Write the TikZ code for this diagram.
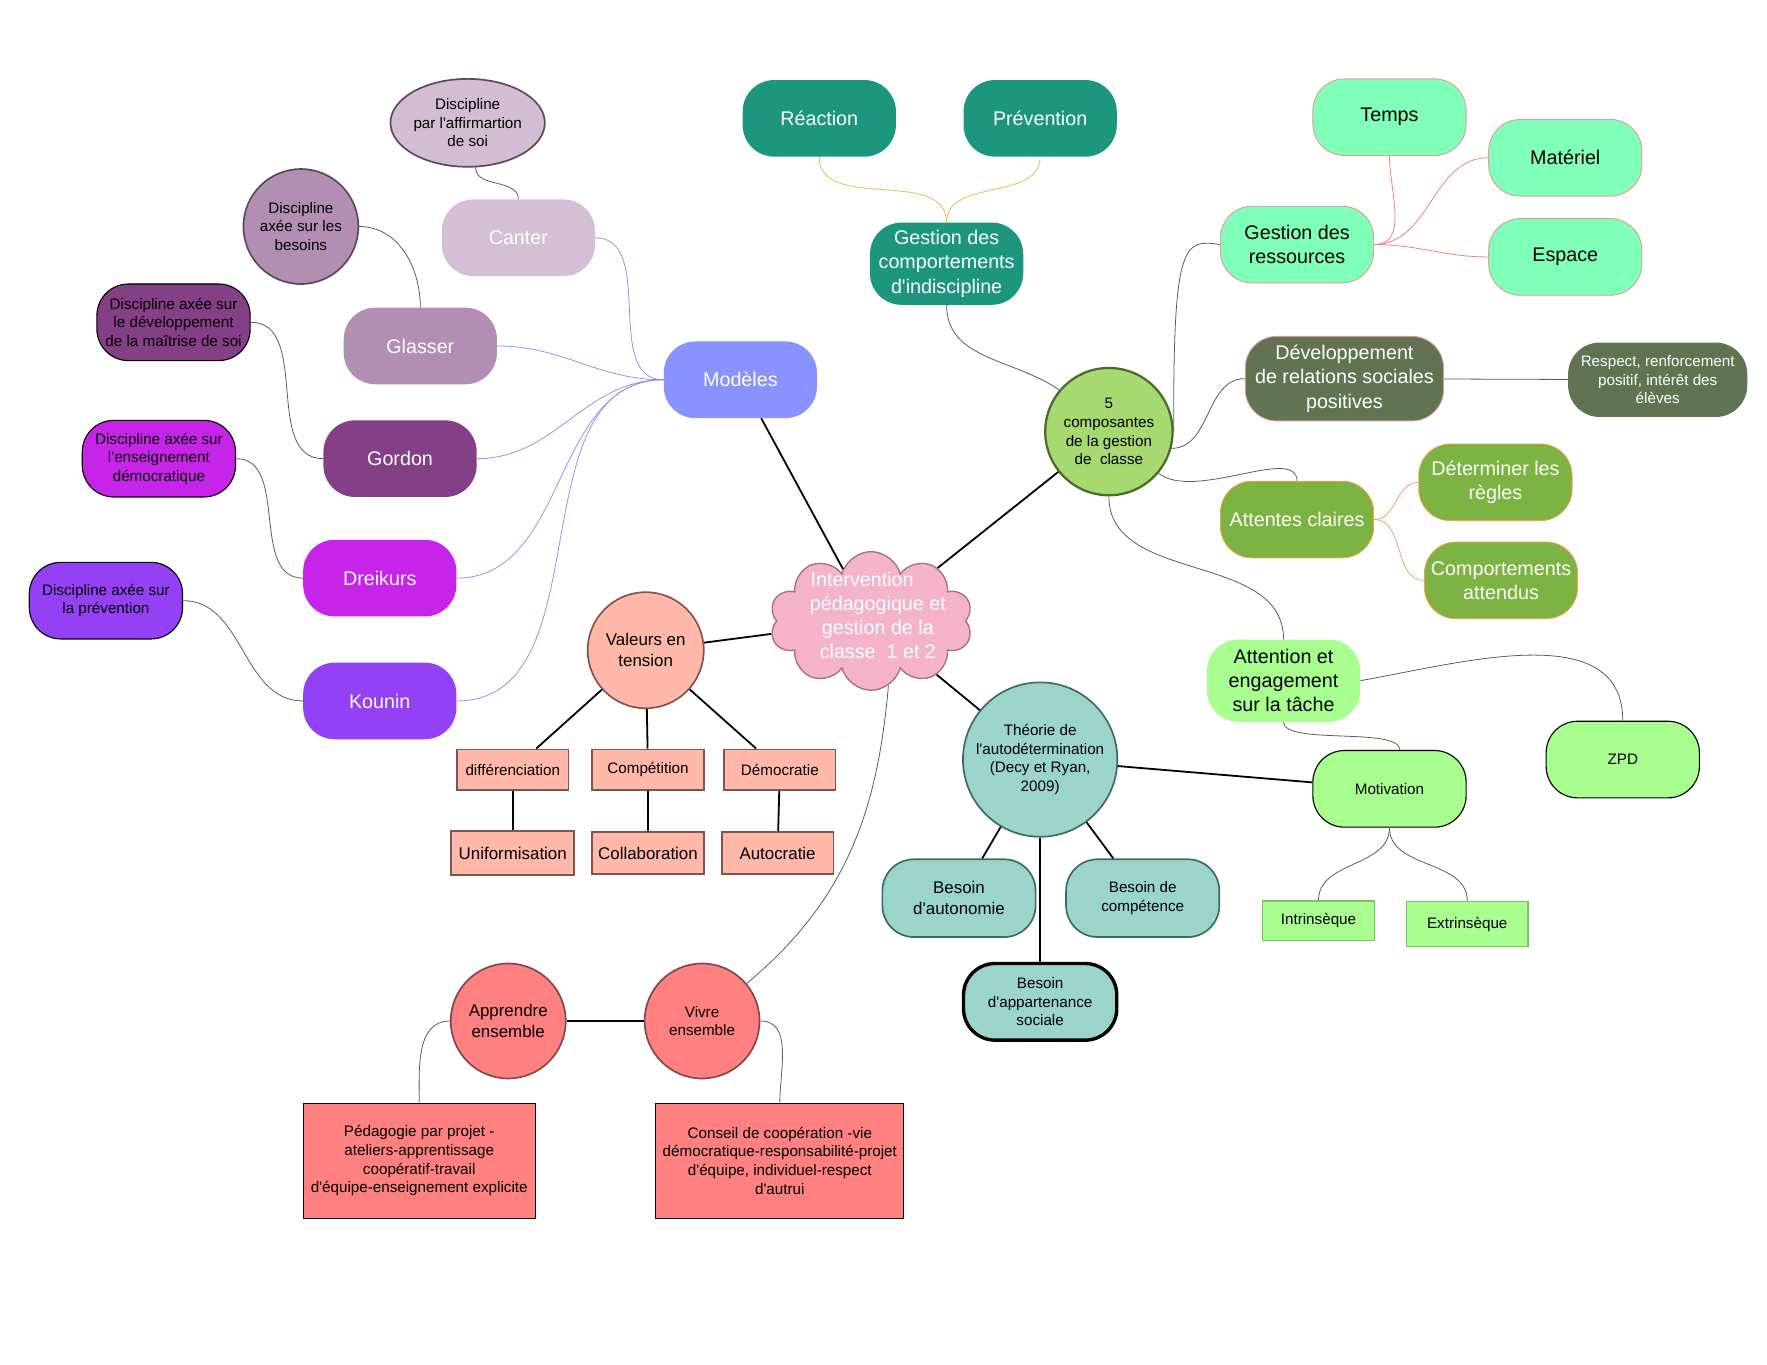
\documentclass[tikz,border=0pt]{standalone}
\usepackage{fontspec}
\setmainfont{Liberation Sans}[Ligatures=TeXOff]
\usetikzlibrary{shapes.geometric,shapes.symbols}

\definecolor{canterdisc}{HTML}{D3BDD3}
\definecolor{edgedark}{HTML}{5A4A5A}
\definecolor{canterfill}{HTML}{D4BFD4}
\definecolor{glasserfill}{HTML}{B28FB2}
\definecolor{gordonfill}{HTML}{843F86}
\definecolor{dreikursfill}{HTML}{C724E9}
\definecolor{kouninfill}{HTML}{9441F6}
\definecolor{modelfill}{HTML}{8A92FF}
\definecolor{modelline}{HTML}{8C93F5}
\definecolor{tealfill}{HTML}{1C977E}
\definecolor{goldline}{HTML}{F2B84B}
\definecolor{fivefill}{HTML}{A6D96F}
\definecolor{fiveedge}{HTML}{4C6A2C}
\definecolor{mintfill}{HTML}{80FFB9}
\definecolor{mintedge}{HTML}{E29A96}
\definecolor{olivefill}{HTML}{627354}
\definecolor{leaffill}{HTML}{7CB342}
\definecolor{orangeedge}{HTML}{EFA050}
\definecolor{orangeline}{HTML}{F5A060}
\definecolor{limefill}{HTML}{A8FF8F}
\definecolor{limeedge}{HTML}{7FC06B}
\definecolor{corefill}{HTML}{F4B3C8}
\definecolor{coreedge}{HTML}{A86E84}
\definecolor{salmonfill}{HTML}{FFB8AA}
\definecolor{salmonedge}{HTML}{7F5550}
\definecolor{aquafill}{HTML}{9BD5C9}
\definecolor{aquaedge}{HTML}{3E6A62}
\definecolor{redfill}{HTML}{FF8080}
\definecolor{rededge}{HTML}{824848}
\definecolor{pinkline}{HTML}{EE8080}
\definecolor{twiggrey}{HTML}{5A5A5A}

\begin{document}
\begin{tikzpicture}
[every node/.style={inner sep=0pt, align=center},
 pill/.style={rectangle, rounded corners=28pt, minimum width=136pt, minimum height=68pt},
 txtbig/.style={font=\fontsize{17.5}{21.5}\selectfont},
 txtmid/.style={font=\fontsize{15}{18.5}\selectfont},
 txtsmall/.style={font=\fontsize{13.5}{16.5}\selectfont},
 trunk/.style={line width=1.6pt, color=black},
 twig/.style={line width=0.7pt, color=twiggrey}]
\useasboundingbox (0pt,0pt) rectangle (1568pt,-1211pt);

% models
\node (cdisc) [ellipse, minimum width=137pt, minimum height=78pt, fill=canterdisc, draw=edgedark, line width=1.5pt, txtsmall] at (415pt,-109pt) {Discipline\\par l'affirmartion\\de soi};
\node (canter) [pill, fill=canterfill, text=white, txtbig] at (460pt,-211pt) {Canter};
\node (bdisc) [circle, minimum size=102pt, fill=glasserfill, draw=edgedark, line width=1.5pt, txtsmall] at (267pt,-201pt) {Discipline\\axée sur les\\besoins};
\node (glasser) [pill, fill=glasserfill, text=white, txtbig] at (373pt,-307pt) {Glasser};
\node (gdisc) [pill, fill=gordonfill, draw=black, line width=1pt, txtsmall] at (154pt,-286pt) {Discipline axée sur\\le développement\\de la maîtrise de soi};
\node (gordon) [pill, fill=gordonfill, text=white, txtbig] at (355pt,-407pt) {Gordon};
\node (ddisc) [pill, fill=dreikursfill, draw=black, line width=1pt, txtsmall] at (141pt,-407pt) {Discipline axée sur\\l'enseignement\\démocratique};
\node (dreikurs) [pill, fill=dreikursfill, text=white, txtbig] at (337pt,-513pt) {Dreikurs};
\node (kdisc) [pill, fill=kouninfill, draw=black, line width=1pt, txtsmall] at (94pt,-533pt) {Discipline axée sur\\la prévention};
\node (kounin) [pill, fill=kouninfill, text=white, txtbig] at (337pt,-622pt) {Kounin};
\node (models) [pill, fill=modelfill, text=white, txtbig] at (657pt,-337pt) {Modèles};

% behaviour
\node (reaction) [pill, fill=tealfill, text=white, txtbig] at (727pt,-105pt) {Réaction};
\node (prevention) [pill, fill=tealfill, text=white, txtbig] at (923pt,-105pt) {Prévention};
\node (gcomp) [pill, minimum height=73pt, fill=tealfill, text=white, txtbig] at (840pt,-234pt) {Gestion des\\comportements\\d'indiscipline};

% five components
\node (five) [circle, minimum size=113pt, fill=fivefill, draw=fiveedge, line width=2pt, txtsmall] at (984pt,-383pt) {5\\composantes\\de la gestion\\de~ classe};
\node (gres) [pill, fill=mintfill, draw=mintedge, line width=0.8pt, txtbig] at (1151pt,-217pt) {Gestion des\\ressources};
\node (temps) [pill, fill=mintfill, draw=mintedge, line width=0.8pt, txtbig] at (1233pt,-104pt) {Temps};
\node (materiel) [pill, fill=mintfill, draw=mintedge, line width=0.8pt, txtbig] at (1389pt,-140pt) {Matériel};
\node (espace) [pill, fill=mintfill, draw=mintedge, line width=0.8pt, txtbig] at (1389pt,-228pt) {Espace};
\node (dev) [pill, minimum width=176pt, minimum height=75pt, fill=olivefill, draw=mintedge, line width=0.8pt, text=white, txtbig] at (1193pt,-336pt) {Développement\\de relations sociales\\positives};
\node (respect) [pill, minimum width=159pt, minimum height=66pt, fill=olivefill, text=white, txtsmall] at (1471pt,-337pt) {Respect, renforcement\\positif, intérêt des\\élèves};
\node (attentes) [pill, fill=leaffill, draw=orangeedge, line width=0.8pt, text=white, txtbig] at (1151pt,-461pt) {Attentes claires};
\node (regles) [pill, fill=leaffill, draw=orangeedge, line width=0.8pt, text=white, txtbig] at (1327pt,-428pt) {Déterminer les\\règles};
\node (attendus) [pill, fill=leaffill, draw=orangeedge, line width=0.8pt, text=white, txtbig] at (1332pt,-515pt) {Comportements\\attendus};
\node (attention) [pill, minimum height=73pt, fill=limefill, txtbig] at (1139pt,-604pt) {Attention et\\engagement\\sur la tâche};
\node (zpd) [pill, fill=limefill, draw=black, line width=1pt, txtsmall] at (1440pt,-674pt) {ZPD};
\node (motiv) [pill, fill=limefill, draw=black, line width=1pt, txtsmall] at (1233pt,-700pt) {Motivation};
\node (intr) [rectangle, minimum width=99pt, minimum height=35pt, fill=limefill, draw=limeedge, line width=1.2pt, txtsmall] at (1170pt,-817pt) {Intrinsèque};
\node (extr) [rectangle, minimum width=108pt, minimum height=40pt, fill=limefill, draw=limeedge, line width=1.2pt, txtsmall] at (1302pt,-820pt) {Extrinsèque};

% centre
\node (core) [cloud, cloud puffs=10, minimum width=180pt, minimum height=123pt, fill=corefill, draw=coreedge, line width=1.2pt,
  label={[txtbig, text=white, xshift=6pt, yshift=5pt]center:Intervention\hspace*{28pt}\\pédagogique et\\gestion de la\\classe~ 1 et 2}] at (773pt,-551pt) {};

% values
\node (valeurs) [circle, minimum size=103pt, fill=salmonfill, draw=salmonedge, line width=1.5pt, txtmid] at (573pt,-577pt) {Valeurs en\\tension};
\node (diff) [rectangle, minimum width=99pt, minimum height=36pt, fill=salmonfill, draw=salmonedge, line width=1.5pt, txtsmall] at (455pt,-683pt) {différenciation};
\node (compet) [rectangle, minimum width=99pt, minimum height=36pt, fill=salmonfill, draw=salmonedge, line width=1.5pt, txtsmall] at (575pt,-683pt) {Compétition};
\node (democ) [rectangle, minimum width=99pt, minimum height=36pt, fill=salmonfill, draw=salmonedge, line width=1.5pt, txtsmall] at (692pt,-683pt) {Démocratie};
\node (unif) [rectangle, minimum width=109pt, minimum height=39pt, fill=salmonfill, draw=salmonedge, line width=1.5pt, txtmid] at (455pt,-757pt) {Uniformisation};
\node (collab) [rectangle, minimum width=99pt, minimum height=37pt, fill=salmonfill, draw=salmonedge, line width=1.5pt, txtmid] at (575pt,-757pt) {Collaboration};
\node (autoc) [rectangle, minimum width=99pt, minimum height=37pt, fill=salmonfill, draw=salmonedge, line width=1.5pt, txtmid] at (690pt,-757pt) {Autocratie};

% theory
\node (theorie) [circle, minimum size=137pt, fill=aquafill, draw=aquaedge, line width=1.5pt, txtsmall] at (923pt,-674pt) {Théorie de\\l'autodétermination\\(Decy et Ryan,\\2009)};
\node (autonomie) [pill, minimum height=69pt, fill=aquafill, draw=aquaedge, line width=1.5pt, txtmid] at (851pt,-797pt) {Besoin\\d'autonomie};
\node (competence) [pill, minimum height=69pt, fill=aquafill, draw=aquaedge, line width=1.5pt, txtsmall] at (1014pt,-797pt) {Besoin de\\compétence};
\node (appart) [pill, fill=aquafill, draw=black, line width=3pt, txtsmall] at (923pt,-889pt) {Besoin\\d'appartenance\\sociale};

% together
\node (apprendre) [circle, minimum size=102pt, fill=redfill, draw=rededge, line width=1.5pt, txtmid] at (451pt,-906pt) {Apprendre\\ensemble};
\node (vivre) [circle, minimum size=102pt, fill=redfill, draw=rededge, line width=1.5pt, txtsmall] at (623pt,-906pt) {Vivre\\ensemble};
\node (pedago) [rectangle, minimum width=206pt, minimum height=102pt, fill=redfill, draw=black, line width=1pt, txtsmall] at (372pt,-1030pt) {Pédagogie par projet -\\ateliers-apprentissage\\coopératif-travail\\d'équipe-enseignement explicite};
\node (conseil) [rectangle, minimum width=220pt, minimum height=102pt, fill=redfill, draw=black, line width=1pt, txtsmall] at (692pt,-1030pt) {Conseil de coopération -vie\\démocratique-responsabilité-projet\\d'équipe, individuel-respect\\d'autrui};

% straight links
\draw [trunk] (core) -- (models);
\draw [trunk] (core) -- (five);
\draw [trunk] (core) -- (valeurs);
\draw [trunk] (core) -- (theorie);
\draw [trunk] (valeurs) -- (diff);
\draw [trunk] (valeurs) -- (compet);
\draw [trunk] (valeurs) -- (democ);
\draw [trunk] (diff) -- (unif);
\draw [trunk] (compet) -- (collab);
\draw [trunk] (democ) -- (autoc);
\draw [trunk] (theorie) -- (autonomie);
\draw [trunk] (theorie) -- (competence);
\draw [trunk] (theorie) -- (appart);
\draw [trunk] (theorie) -- (motiv);
\draw [trunk] (apprendre) -- (vivre);

% curved links
\draw [twig, color=modelline] (models.west) to [out=180, in=0] (canter.east);
\draw [twig, color=modelline] (models.west) to [out=180, in=0] (glasser.east);
\draw [twig, color=modelline] (models.west) to [out=180, in=0] (gordon.east);
\draw [twig, color=modelline] (models.west) to [out=180, in=0] (dreikurs.east);
\draw [twig, color=modelline] (models.west) to [out=180, in=0] (kounin.east);
\draw [twig] (cdisc.-80) to [out=-90, in=90] (canter.north);
\draw [twig] (bdisc.east) to [out=0, in=90] (glasser.north);
\draw [twig] (gdisc.east) to [out=0, in=180] (gordon.west);
\draw [twig] (ddisc.east) to [out=0, in=180] (dreikurs.west);
\draw [twig] (kdisc.east) to [out=0, in=180] (kounin.west);
\draw [twig, color=goldline] (reaction.south) to [out=-90, in=90] (gcomp.north);
\draw [twig, color=goldline] (prevention.south) to [out=-90, in=90] (gcomp.north);
\draw [twig] (gcomp.south) to [out=-90, in=145] (five.140);
\draw [twig] (five.east) .. controls (1041pt,-215pt) and (1050pt,-212pt) .. (gres.west);
\draw [twig] (five.-15) to [out=0, in=180] (dev.west);
\draw [twig] (five.-40) .. controls (1060pt,-445pt) and (1150pt,-395pt) .. (attentes.north);
\draw [twig] (five.south) to [out=-90, in=90] (attention.north);
\draw [twig, color=pinkline] (gres.east) to [out=0, in=-90] (temps.south);
\draw [twig, color=pinkline] (gres.east) to [out=0, in=180] (materiel.west);
\draw [twig, color=pinkline] (gres.east) to [out=0, in=180] (espace.west);
\draw [twig] (dev) -- (respect);
\draw [twig, color=orangeline] (attentes.east) to [out=0, in=180] (regles.west);
\draw [twig, color=orangeline] (attentes.east) to [out=0, in=180] (attendus.west);
\draw [twig] (attention.east) to [out=10, in=90] (zpd.north);
\draw [twig] (attention.south) to [out=-90, in=90, looseness=0.5] (motiv.75);
\draw [twig] (motiv.south) to [out=-90, in=90] (intr.north);
\draw [twig] (motiv.south) to [out=-90, in=90] (extr.north);
\draw [twig] (core.-75) to [out=-95, in=40] (vivre.40);
\draw [twig] (apprendre.west) to [out=180, in=90] (pedago.north);
\draw [twig] (vivre.east) to [out=0, in=90] (conseil.north);
\end{tikzpicture}
\end{document}
